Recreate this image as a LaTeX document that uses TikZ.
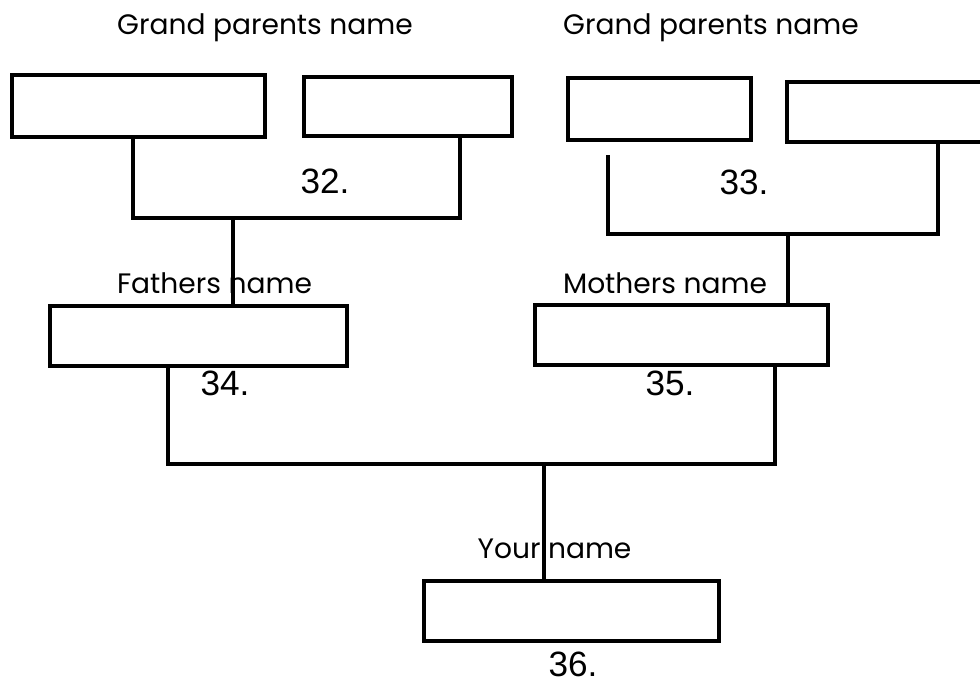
\documentclass[tikz,border=0pt]{standalone}
\usepackage{fontspec}
\setmainfont{Liberation Sans}
\newfontfamily\lblfont{Poppins}
\begin{document}
\begin{tikzpicture}[line width=2pt,
  namebox/.style={draw, line width=2pt, minimum height=1.2cm, inner sep=0pt},
  lbl/.style={inner sep=0pt, font=\lblfont\fontsize{16}{18}\selectfont},
  num/.style={inner sep=0pt, font=\fontsize{20}{22}\selectfont}]
\clip (0,0) rectangle (19.6,13.64);
%grand parents
\node[lbl] (gpl) at (5.3,13.08) {Grand parents name};
\node[lbl] (gpr) at (14.22,13.08) {Grand parents name};
\node[namebox, minimum width=5.06cm, minimum height=1.24cm] (g1) at (2.77,11.52) {};
\node[namebox, minimum width=4.16cm, minimum height=1.18cm] (g2) at (8.16,11.51) {};
\node[namebox, minimum width=3.66cm, minimum height=1.24cm] (g3) at (13.19,11.46) {};
\node[namebox, minimum width=4.46cm] (g4) at (17.97,11.4) {};
%bracket 32
\coordinate (b32l) at (2.66,9.28); \coordinate (b32r) at (9.2,9.28);
\coordinate (s32) at (4.66,9.28);
\draw (g1.south -| b32l) -- (b32l) -- (b32r) -- (g2.south -| b32r);
\node[num] (n32) at (6.5,10.02) {32.};
%bracket 33
\coordinate (b33l) at (12.16,8.96); \coordinate (b33r) at (18.76,8.96);
\coordinate (s33) at (15.76,8.96);
\draw (12.16,10.54) -- (b33l) -- (b33r) -- (g4.south -| b33r);
\node[num] (n33) at (14.88,10.0) {33.};
%parents
\node[lbl] (fl) at (4.29,7.98) {Fathers name};
\node[lbl] (ml) at (13.3,7.98) {Mothers name};
\node[namebox, minimum width=5.94cm] (fa) at (3.97,6.92) {};
\node[namebox, minimum width=5.86cm] (mo) at (13.63,6.94) {};
\draw (s32) -- (fa.north -| s32);
\draw (s33) -- (mo.north -| s33);
%bracket 34/35
\coordinate (b34) at (3.36,4.36); \coordinate (b35) at (15.5,4.36);
\coordinate (s36) at (10.88,4.36);
\draw (fa.south -| b34) -- (b34) -- (b35) -- (mo.south -| b35);
\node[num] (n34) at (4.5,5.98) {34.};
\node[num] (n35) at (13.4,5.98) {35.};
%you
\node[lbl] (yl) at (11.09,2.66) {Your name};
\node[namebox, minimum width=5.9cm] (you) at (11.43,1.42) {};
\draw (s36) -- (you.north -| s36);
\node[num] (n36) at (11.46,0.36) {36.};
\end{tikzpicture}
\end{document}
